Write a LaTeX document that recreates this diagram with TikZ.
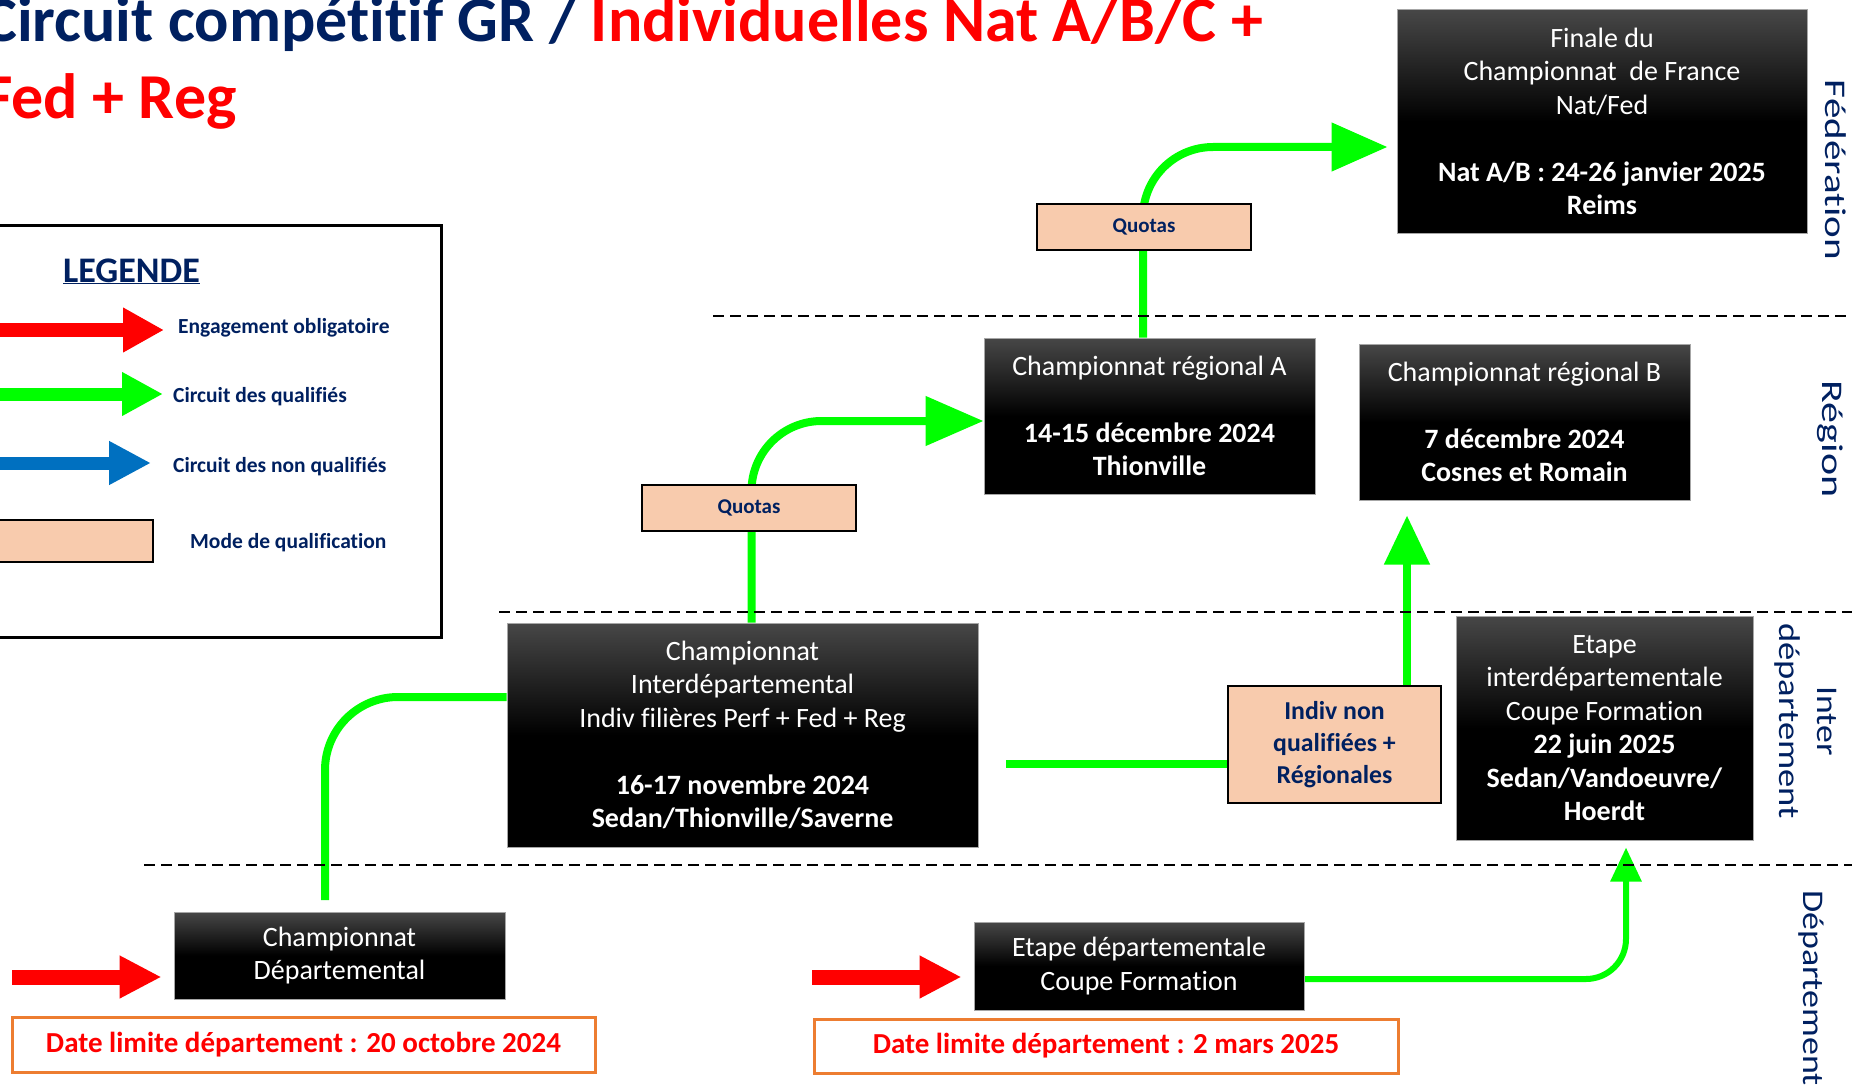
\documentclass[tikz,border=0pt]{standalone}
\usepackage{fontspec}
\setmainfont{Carlito}[Ligatures={NoCommon}]
\usetikzlibrary{arrows.meta,calc}
\definecolor{navy}{HTML}{002060}
\definecolor{gr}{HTML}{00FF00}
\definecolor{rd}{HTML}{FF0000}
\definecolor{bl}{HTML}{0070C0}
\definecolor{peach}{HTML}{F8CBAD}
\definecolor{orng}{HTML}{ED7D31}
\definecolor{boxtop}{HTML}{474747}
\pgfdeclarelayer{bg}
\pgfsetlayers{bg,main}
\begin{document}
\begin{tikzpicture}[x=1pt,y=-1pt,
  blackbox/.style={draw=gray!70, line width=1pt, top color=boxtop, bottom color=black, middle color=black,
    text=white, align=center, inner sep=0pt, font=\fontsize{28}{33.5}\selectfont},
  peachbox/.style={draw=black, line width=2pt, fill=peach, text=navy, align=center, inner sep=0pt},
  datebox/.style={draw=orng, line width=3pt, fill=white, text=rd, inner sep=0pt, font=\bfseries\fontsize{29}{32}\selectfont},
  gline/.style={draw=gr, line width=8pt},
  gthin/.style={draw=gr, line width=6pt},
  rline/.style={draw=rd, line width=15pt, -{Triangle[width=40pt,length=42pt]}},
  dashline/.style={draw=black, line width=2pt, dash pattern=on 11pt off 6pt},
  sidelabel/.style={rotate=-90, text=navy, align=center, inner sep=0pt, font=\fontsize{30}{38}\selectfont},
  legtext/.style={anchor=base west, inner sep=0pt, text=navy, font=\bfseries\fontsize{21.5}{26}\selectfont}
]
\useasboundingbox (0,0) rectangle (1855,1089);

% Title
\node[anchor=base west, inner sep=0pt, font=\bfseries\fontsize{64}{77}\selectfont, text=navy] (t1) at (-17,42)
  {Circuit compétitif GR / \textcolor{rd}{Individuelles Nat A/B/C +}};
\node[anchor=base west, inner sep=0pt, font=\bfseries\fontsize{64}{77}\selectfont, text=rd] (t2) at (-17,119) {Fed + Reg};

% Legend
\draw[line width=3pt] (-10,225) rectangle (441,637);
\node[anchor=base west, inner sep=0pt, font=\bfseries\fontsize{36}{40}\selectfont, text=navy] (leg) at (63,282) {\underline{LEGENDE}};
\coordinate (lr0) at (-10,330); \coordinate (lr1) at (164,330);
\coordinate (lg0) at (-10,394); \coordinate (lg1) at (163,394);
\coordinate (lb0) at (-10,463); \coordinate (lb1) at (151,463);
\draw[draw=rd, line width=14pt, -{Triangle[width=42pt,length=41pt]}] (lr0) -- (lr1);
\draw[draw=gr, line width=13pt, -{Triangle[width=41pt,length=41pt]}] (lg0) -- (lg1);
\draw[draw=bl, line width=13pt, -{Triangle[width=41pt,length=42pt]}] (lb0) -- (lb1);
\draw[line width=2pt, fill=peach] (-10,520) rectangle (153,562);
\node[legtext] (l1) at (178,333) {Engagement obligatoire};
\node[legtext] (l2) at (173,402) {Circuit des qualifiés};
\node[legtext] (l3) at (173,472) {Circuit des non qualifiés};
\node[legtext] (l4) at (190,548) {Mode de qualification};

% Boxes
\node[blackbox, minimum width=410, minimum height=223] (finale) at (1602,121.5)
  {Finale du\\Championnat\ \ de France\\Nat/Fed\\[33.5pt]\textbf{Nat A/B : 24-26 janvier 2025}\\\textbf{Reims}};
\node[blackbox, minimum width=331, minimum height=156] (regA) at (1149.5,416)
  {Championnat régional A\\[33.5pt]\textbf{14-15 décembre 2024}\\\textbf{Thionville}};
\node[blackbox, minimum width=331, minimum height=156] (regB) at (1524.5,422)
  {Championnat régional B\\[33.5pt]\textbf{7 décembre 2024}\\\textbf{Cosnes et Romain}};
\node[blackbox, minimum width=471, minimum height=224] (inter) at (742.5,735)
  {Championnat\\Interdépartemental\\Indiv filières Perf + Fed + Reg\\[33.5pt]\textbf{16-17 novembre 2024}\\\textbf{Sedan/Thionville/Saverne}};
\node[blackbox, minimum width=297, minimum height=224] (etinter) at (1604.5,728)
  {Etape\\interdépartementale\\Coupe Formation\\\textbf{22 juin 2025}\\\textbf{Sedan/Vandoeuvre/}\\\textbf{Hoerdt}};
\node[blackbox, minimum width=331, minimum height=87] (dept) at (339.5,955.5)
  {Championnat\\Départemental};
\node[blackbox, minimum width=330, minimum height=88] (etdep) at (1139,966)
  {Etape départementale\\Coupe Formation};
\node[peachbox, minimum width=213, minimum height=117, font=\bfseries\fontsize{25.8}{32}\selectfont] (indiv) at (1334.5,744.5)
  {Indiv non\\qualifiées +\\Régionales};
\node[peachbox, minimum width=214, minimum height=46, font=\bfseries\fontsize{21}{24}\selectfont] (q1) at (749,508) {Quotas};
\node[peachbox, minimum width=214, minimum height=46, font=\bfseries\fontsize{21}{24}\selectfont] (q2) at (1144,227) {Quotas};
\node[datebox, minimum width=583, minimum height=55] (date1) at (303.5,1044.5) {Date limite département : 20 octobre 2024};
\node[datebox, minimum width=584, minimum height=54] (date2) at (1106,1046) {Date limite département : 2 mars 2025};

% Side labels
\node[sidelabel] (sfed) at (1836,170) {\scalebox{1.37}[1]{Fédération}};
\node[sidelabel] (sreg) at (1830,439) {\scalebox{1.4}[1]{Région}};
\node[sidelabel] (sint) at (1806,721) {\scalebox{1.19}[1]{Inter}\\\scalebox{1.22}[1]{département}};
\node[sidelabel] (sdep) at (1811,988) {\scalebox{1.2}[1]{Département}};

% Red arrows
\coordinate (r1) at (12,977);
\coordinate (r2) at (812,977);
\draw[rline, shorten >=12pt] (r1) -- ([yshift=-21.5pt]dept.west);
\draw[rline, shorten >=12pt] (r2) -- ([yshift=-11pt]etdep.west);

\begin{pgfonlayer}{bg}
% green connectors
\coordinate (a0) at (325,900);
\draw[gline, rounded corners=73pt] (a0) |- ([yshift=38pt]inter.west);
\draw[gline, rounded corners=70pt, -{Triangle[width=48pt,length=58pt]}] ([xshift=9pt]inter.north) |- ([yshift=-5pt]regA.west);
\draw[gline, rounded corners=70pt, -{Triangle[width=47pt,length=56pt]}, shorten >=9pt] ([xshift=-6.5pt]regA.north) |- ([yshift=-25.5pt]finale.west);
\coordinate (d0) at (1006,764);
\draw[gline] (d0) -- ([yshift=-19.5pt]indiv.west);
\draw[gline, -{Triangle[width=44pt,length=49pt]}, shorten >=15pt] ([xshift=72.5pt]indiv.north) -- ([xshift=72.5pt]indiv.north |- regB.south);
\draw[gthin, rounded corners=40pt, -{Triangle[width=30pt,length=34pt]}, shorten >=7pt] ([yshift=-13pt]etdep.east) -| ([xshift=21.5pt]etinter.south);
% dashed separators
\draw[dashline] (713,316) -- (1852,316);
\draw[dashline] (499,612) -- (1852,612);
\draw[dashline] (144,865) -- (1852,865);
\end{pgfonlayer}
\end{tikzpicture}
\end{document}
